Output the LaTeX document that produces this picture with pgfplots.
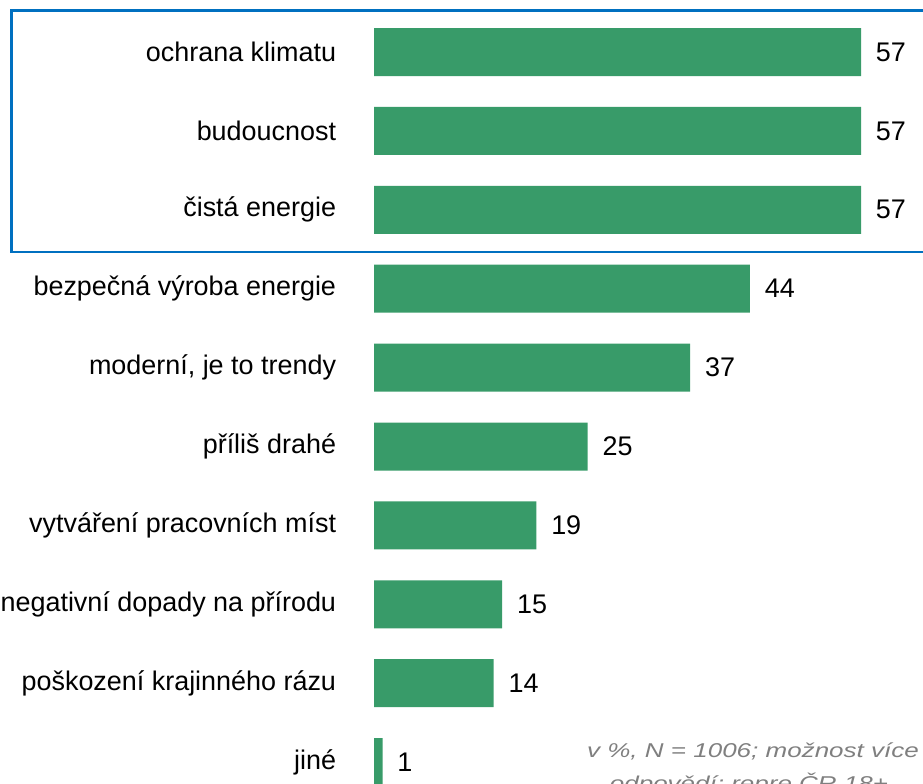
\documentclass[border=0pt]{standalone}
\usepackage{graphicx}
\usepackage{pgfplots}
\pgfplotsset{compat=1.18}
\usepackage{fontspec}
\setmainfont{Liberation Sans}
\definecolor{bargreen}{HTML}{389B69}
\definecolor{boxblue}{HTML}{0070C0}
\definecolor{notegray}{HTML}{7F7F7F}
\begin{document}
\begin{tikzpicture}[x=0.75pt,y=0.75pt]
\path[use as bounding box] (0,0) rectangle (923,-784);
\clip (0,0) rectangle (923,-784);
\draw[boxblue, line width=1.9pt] (11.5,-10.5) rectangle (940,-252);
\begin{axis}[
  at={(280.5pt,-39pt)}, anchor=north west,
  scale only axis, x=6.408pt, y=59.175pt, y dir=reverse,
  xmin=0, xmax=57, ymin=0, ymax=9,
  xbar, bar width=36pt, clip=false,
  /pgf/number format/assume math mode=true,
  axis line style={draw=none}, major tick style={draw=none}, xtick=\empty,
  ytick={0,...,9},
  yticklabels={ochrana klimatu, budoucnost, čistá energie, bezpečná výroba energie, {moderní, je to trendy}, příliš drahé, vytváření pracovních míst, negativní dopady na přírodu, poškození krajinného rázu, jiné},
  yticklabel style={font=\fontsize{20.2}{24}\selectfont, anchor=east, inner sep=0pt, xshift=-24pt},
  nodes near coords,
  nodes near coords style={font=\fontsize{20.2}{24}\selectfont, anchor=west, inner sep=0pt, xshift=11pt},
]
\addplot[fill=bargreen, draw=none] coordinates {(57,0) (57,1) (57,2) (44,3) (37,4) (25,5) (19,6) (15,7) (14,8) (1,9)};
\end{axis}
\node[anchor=base, text=notegray, font=\fontsize{15}{18}\selectfont\itshape] at (753,-757) {\scalebox{1.3}[1]{v \%, N = 1006; možnost více}};
\node[anchor=base, text=notegray, font=\fontsize{15}{18}\selectfont\itshape] at (749,-790) {\scalebox{1.3}[1]{odpovědí; repre ČR 18+}};
\end{tikzpicture}
\end{document}
